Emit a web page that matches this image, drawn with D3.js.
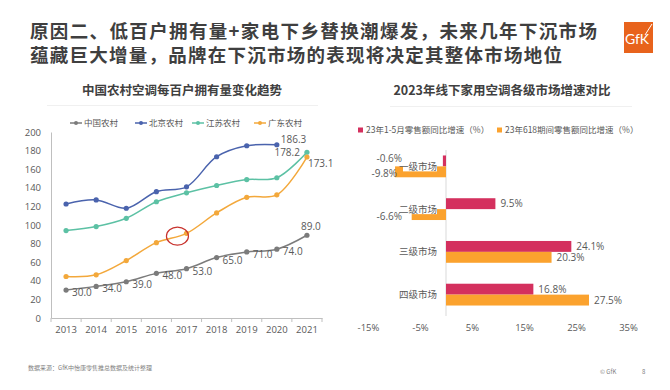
<!DOCTYPE html>
<html>
<head>
<meta charset="utf-8">
<script src="https://cdn.jsdelivr.net/npm/d3@7"></script>
<style>
  body { margin: 0; background: #fff; }
  svg { display: block; font-family: "Noto Sans CJK SC", "Noto Sans", sans-serif; }
</style>
</head>
<body>
<svg id="chart" width="670" height="390"></svg>
<script>
// left chart data: air conditioners per 100 rural households
const years = ['2013','2014','2015','2016','2017','2018','2019','2020','2021'];
const seriesNames = ['中国农村','北京农村','江苏农村','广东农村'];
const china     = [30.0, 34.0, 39.0, 48.0, 53.0, 65.0, 71.0, 74.0, 89.0];
const beijing   = [122.6, 127.0, 118.0, 135.8, 141.0, 173.4, 185.2, 186.3, null];
const jiangsu   = [94.0, 98.3, 107.2, 125.0, 134.6, 142.5, 148.8, 150.8, 178.2];
const guangdong = [44.6, 46.4, 61.8, 81.0, 91.0, 113.0, 129.8, 132.4, 173.1];
const yTicks = [0, 20, 40, 60, 80, 100, 120, 140, 160, 180, 200];

// right chart data: 2023 offline AC growth by market tier
const tiers = ['一级市场','二级市场','三级市场','四级市场'];
const barSeries = ['23年1-5月零售额同比增速（%）','23年618期间零售额同比增速（%）'];
const janMay = [-0.6, 9.5, 24.1, 16.8];
const d618 = [-9.8, -6.6, 20.3, 27.5];
const xTicks = [-15, -5, 5, 15, 25, 35];

const svg = d3.select('#chart');
const txt = '#595959';

// header
const head = svg.append('g').attr('font-weight', 700).attr('fill', '#3f3f3f').attr('font-size', 18.5);
head.append('text').attr('x', 30).attr('y', 38).attr('textLength', 567).attr('lengthAdjust', 'spacing')
  .text('原因二、低百户拥有量+家电下乡替换潮爆发，未来几年下沉市场');
head.append('text').attr('x', 30).attr('y', 62).attr('textLength', 532).attr('lengthAdjust', 'spacing')
  .text('蕴藏巨大增量，品牌在下沉市场的表现将决定其整体市场地位');

// GfK logo
const logo = svg.append('g');
logo.append('rect').attr('x', 624).attr('y', 22).attr('width', 29).attr('height', 31).attr('fill', '#e8631c');
logo.append('text').attr('x', 637).attr('y', 44).attr('text-anchor', 'middle')
  .attr('font-family', 'Lato, sans-serif').attr('font-size', 14).attr('fill', '#fff').text('GfK');
logo.append('line').attr('x1', 645).attr('y1', 35).attr('x2', 652).attr('y2', 24)
  .attr('stroke', '#fff').attr('stroke-width', 1);

// ---------- left chart ----------
const x = d3.scaleBand().domain(years).range([51, 322]);
const y = d3.scaleLinear().domain([0, 200]).range([318, 132]);
const colors = ['#7b7b7b', '#4a63ad', '#5cc1a4', '#f3a83b'];
const allSeries = [china, beijing, jiangsu, guangdong];

svg.append('text').attr('x', 182).attr('y', 95).attr('text-anchor', 'middle')
  .attr('font-size', 12.5).attr('font-weight', 700).attr('fill', '#404040')
  .text('中国农村空调每百户拥有量变化趋势');
svg.append('line').attr('x1', 47).attr('x2', 318).attr('y1', 105.5).attr('y2', 105.5)
  .attr('stroke', '#f0f0f0');

const yAxis = svg.append('g').attr('transform', 'translate(51,0)')
  .call(d3.axisLeft(y).tickValues(yTicks).tickSize(0).tickPadding(10));
yAxis.select('.domain').attr('stroke', '#bfbfbf');
yAxis.selectAll('text').attr('fill', txt).attr('font-size', 9.5).attr('font-family', '"Open Sans", sans-serif');

const xAxis = svg.append('g').attr('transform', 'translate(0,318)')
  .call(d3.axisBottom(x).tickSize(0).tickPadding(8));
xAxis.select('.domain').attr('stroke', '#bfbfbf');
xAxis.selectAll('text').attr('fill', txt).attr('font-size', 9.5).attr('font-family', '"Open Sans", sans-serif');
xAxis.selectAll('.bnd').data(years.concat(['end'])).enter().append('line')
  .attr('x1', (d, i) => 51 + i * x.step()).attr('x2', (d, i) => 51 + i * x.step())
  .attr('y1', 0).attr('y2', 4).attr('stroke', '#bfbfbf');

const line = d3.line()
  .defined(d => d != null)
  .x((d, i) => x(years[i]) + x.bandwidth() / 2)
  .y(d => y(d))
  .curve(d3.curveCatmullRom.alpha(0.5));

allSeries.forEach((s, k) => {
  const g = svg.append('g');
  g.append('path').datum(s).attr('d', line).attr('fill', 'none')
    .attr('stroke', colors[k]).attr('stroke-width', 1.5);
  g.selectAll('circle').data(s.map((v, i) => [i, v]).filter(d => d[1] != null)).enter()
    .append('circle').attr('cx', d => x(years[d[0]]) + x.bandwidth() / 2)
    .attr('cy', d => y(d[1])).attr('r', 2.6).attr('fill', colors[k]);
});

// data labels
const lbl = svg.append('g').attr('fill', txt).attr('font-size', 10).attr('font-family', '"Open Sans", sans-serif');
china.forEach((v, i) => {
  const cx = x(years[i]) + x.bandwidth() / 2;
  if (i === years.length - 1) {
    lbl.append('text').attr('x', cx + 4).attr('y', y(v) - 5).attr('text-anchor', 'middle').text(v.toFixed(1));
  } else {
    lbl.append('text').attr('x', cx + 6).attr('y', y(v) + 6).text(v.toFixed(1));
  }
});
const last = years.length - 1;
const xc = i => x(years[i]) + x.bandwidth() / 2;
lbl.append('text').attr('x', xc(7) + 4).attr('y', y(beijing[7]) - 2).text(beijing[7].toFixed(1));
lbl.append('text').attr('x', xc(last) - 7).attr('y', y(jiangsu[last]) + 3.5).attr('text-anchor', 'end').text(jiangsu[last].toFixed(1));
lbl.append('text').attr('x', xc(last) + 1).attr('y', y(guangdong[last]) + 10).text(guangdong[last].toFixed(1));

// highlight circle on 2016-2017 Guangdong
svg.append('ellipse').attr('cx', (xc(3) + xc(4)) / 2 + 6).attr('cy', y(88))
  .attr('rx', 11).attr('ry', 9).attr('fill', 'none').attr('stroke', '#c8332e').attr('stroke-width', 1.2);

// legend
const legX = [70, 135, 192, 254];
seriesNames.forEach((n, k) => {
  const g = svg.append('g').attr('transform', 'translate(' + legX[k] + ',123)');
  g.append('line').attr('x1', 0).attr('x2', 12).attr('stroke', colors[k]).attr('stroke-width', 1.5);
  g.append('circle').attr('cx', 6).attr('r', 2).attr('fill', colors[k]);
  g.append('text').attr('x', 14).attr('y', 3).attr('font-size', 8.5).attr('fill', txt).text(n);
});

// ---------- right chart ----------
const bx = d3.scaleLinear().domain([-15, 35]).range([368, 628]);
const by = d3.scaleBand().domain(tiers).range([145, 316]).paddingInner(0.49).paddingOuter(0.245);
const sub = d3.scaleBand().domain([0, 1]).range([0, by.bandwidth()]);
const barColors = ['#d4305e', '#fba22e'];

svg.append('text').attr('x', 502).attr('y', 95).attr('text-anchor', 'middle')
  .attr('font-size', 12.5).attr('font-weight', 700).attr('fill', '#404040')
  .text('2023年线下家用空调各级市场增速对比');
svg.append('line').attr('x1', 390).attr('x2', 632).attr('y1', 106.5).attr('y2', 106.5)
  .attr('stroke', '#f0f0f0');

const legR = [358, 497];
barSeries.forEach((n, k) => {
  const g = svg.append('g').attr('transform', 'translate(' + legR[k] + ',130)');
  g.append('rect').attr('x', 0).attr('y', -2.5).attr('width', 5).attr('height', 5).attr('fill', barColors[k]);
  g.append('text').attr('x', 8).attr('y', 3).attr('font-size', 8.5).attr('fill', txt).text(n);
});

svg.append('line').attr('x1', bx(0)).attr('x2', bx(0)).attr('y1', 150).attr('y2', 316)
  .attr('stroke', '#d9d9d9');

const bxAxis = svg.append('g').attr('transform', 'translate(0,318)')
  .call(d3.axisBottom(bx).tickValues(xTicks).tickFormat(d => d + '%').tickSize(0).tickPadding(6));
bxAxis.select('.domain').remove();
bxAxis.selectAll('text').attr('fill', txt).attr('font-size', 9.5).attr('font-family', '"Open Sans", sans-serif');

[janMay, d618].forEach((vals, k) => {
  svg.append('g').selectAll('rect').data(vals).enter().append('rect')
    .attr('x', d => bx(Math.min(0, d)))
    .attr('width', d => Math.abs(bx(d) - bx(0)))
    .attr('y', (d, i) => by(tiers[i]) + sub(k))
    .attr('height', sub.bandwidth())
    .attr('fill', barColors[k]);
});

// category labels with white boxes
tiers.forEach(t => {
  const cy = by(t) + by.bandwidth() / 2;
  const g = svg.append('g');
  g.append('rect').attr('x', 403).attr('y', cy - 6).attr('width', 34).attr('height', 11).attr('fill', '#fff');
  g.append('text').attr('x', 437).attr('y', cy + 3.5).attr('text-anchor', 'end')
    .attr('font-size', 9.5).attr('fill', txt).text(t);
});

// bar value labels
const blbl = svg.append('g').attr('fill', txt).attr('font-size', 10).attr('font-family', '"Open Sans", sans-serif');
[janMay, d618].forEach((vals, k) => {
  vals.forEach((v, i) => {
    const cy = by(tiers[i]) + sub(k) + sub.bandwidth() / 2 + 3.5;
    if (v >= 0) {
      blbl.append('text').attr('x', bx(v) + 5).attr('y', cy).text(v.toFixed(1) + '%');
    } else {
      const end = Math.min(bx(v) + 2, 402);
      blbl.append('text').attr('x', end).attr('y', cy + (k === 0 ? -2 : 2)).attr('text-anchor', 'end').text(v.toFixed(1) + '%');
    }
  });
});

// footer
svg.append('text').attr('x', 28).attr('y', 370).attr('font-size', 6).attr('fill', '#7f7f7f')
  .text('数据来源：GfK中怡康零售推总数据及统计整理');
svg.append('text').attr('x', 600).attr('y', 374).attr('font-size', 6).attr('fill', '#7f7f7f').text('© GfK');
svg.append('text').attr('x', 642).attr('y', 374).attr('font-size', 6).attr('fill', '#7f7f7f').text('8');
</script>
</body>
</html>
